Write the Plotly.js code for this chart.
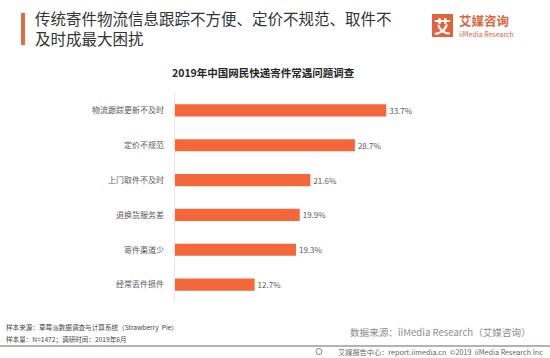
<!DOCTYPE html>
<html><head><meta charset="utf-8">
<script src="https://cdn.plot.ly/plotly-3.0.1.min.js"></script>
<style>html,body{margin:0;padding:0;background:#fff;}#chart{width:550px;height:358px;}</style>
</head><body><div id="chart"></div>
<script>
const categories = ["物流跟踪更新不及时","定价不规范","上门取件不及时","退换货服务差","寄件渠道少","经常丢件损件"];
const values = [33.7, 28.7, 21.6, 19.9, 19.3, 12.7];
const chartTitle = "2019年中国网民快递寄件常遇问题调查";
const headline = "传统寄件物流信息跟踪不方便、定价不规范、取件不<br>及时成最大困扰";
const sourceNote1 = "样本来源：草莓派数据调查与计算系统（Strawberry  Pie）";
const sourceNote2 = "样本量：N=1472；调研时间：2019年6月";
const dataSource = "数据来源：iiMedia Research（艾媒咨询）";
const footerText = "艾媒报告中心：report.iimedia.cn  ©2019  iiMedia Research Inc";

const F = '"Noto Sans CJK SC", "Noto Sans", sans-serif';
const W = 550, H = 358;
const px = x => x / W, py = y => 1 - y / H;

const trace = {
  type: 'bar', orientation: 'h',
  x: values, y: categories,
  width: 0.35,
  marker: {color: '#F4673B'},
  text: values.map(v => v.toFixed(1) + '%'),
  textposition: 'outside',
  cliponaxis: false,
  textfont: {family: F, size: 8, color: '#595959'},
  hoverinfo: 'none'
};

const annotations = [
  {text: headline, x: px(33), y: py(5), xref: 'paper', yref: 'paper', xanchor: 'left', yanchor: 'top',
   align: 'left', showarrow: false, font: {family: F, size: 15.5, color: '#333'}},
  {text: '<b>' + chartTitle + '</b>', x: px(263), y: py(72), xref: 'paper', yref: 'paper', xanchor: 'center', yanchor: 'middle',
   showarrow: false, font: {family: F, size: 10.5, color: '#262626'}},
  {text: '<b>艾</b>', x: px(442.5), y: py(25.5), xref: 'paper', yref: 'paper', xanchor: 'center', yanchor: 'middle',
   showarrow: false, font: {family: F, size: 17, color: '#fff'}},
  {text: '<b>艾媒咨询</b>', x: px(457), y: py(20), xref: 'paper', yref: 'paper', xanchor: 'left', yanchor: 'middle',
   showarrow: false, font: {family: F, size: 12.5, color: '#E0633C'}},
  {text: 'iiMedia Research', x: px(457), y: py(34), xref: 'paper', yref: 'paper', xanchor: 'left', yanchor: 'middle',
   showarrow: false, font: {family: F, size: 7, color: '#E0633C'}},
  {text: sourceNote1, x: px(4), y: py(327), xref: 'paper', yref: 'paper', xanchor: 'left', yanchor: 'middle',
   showarrow: false, font: {family: F, size: 6.6, color: '#444'}},
  {text: sourceNote2, x: px(4), y: py(339), xref: 'paper', yref: 'paper', xanchor: 'left', yanchor: 'middle',
   showarrow: false, font: {family: F, size: 6.6, color: '#444'}},
  {text: dataSource, x: px(533), y: py(332), xref: 'paper', yref: 'paper', xanchor: 'right', yanchor: 'middle',
   showarrow: false, font: {family: F, size: 9.6, color: '#8c8c8c'}},
  {text: footerText, x: px(545), y: py(351.5), xref: 'paper', yref: 'paper', xanchor: 'right', yanchor: 'middle',
   showarrow: false, font: {family: F, size: 7.2, color: '#666'}}
];

const shapes = [
  {type: 'rect', xref: 'paper', yref: 'paper', x0: px(21), x1: px(25), y0: py(13), y1: py(45),
   fillcolor: '#E26C3C', line: {width: 0}},
  {type: 'rect', xref: 'paper', yref: 'paper', x0: px(432), x1: px(453), y0: py(14), y1: py(37),
   fillcolor: '#E0633C', line: {width: 0}},
  {type: 'line', xref: 'paper', yref: 'paper', x0: 0, x1: 1, y0: py(346), y1: py(346),
   line: {color: '#999999', width: 1.6}},
  {type: 'circle', xref: 'paper', yref: 'paper', x0: px(316), x1: px(322), y0: py(348.5), y1: py(354.5),
   line: {color: '#666', width: 0.8}}
];

const layout = {
  width: W, height: H,
  margin: {l: 0, r: 0, t: 0, b: 0, pad: 0},
  paper_bgcolor: '#fff', plot_bgcolor: '#fff',
  showlegend: false,
  xaxis: {domain: [px(175), px(526)], range: [0, 56], showgrid: false, zeroline: false,
          showticklabels: false, ticks: '', fixedrange: true},
  yaxis: {domain: [py(302), py(93)], autorange: 'reversed', showgrid: false, zeroline: false, ticks: '',
          showline: true, linecolor: '#e6e6e6', linewidth: 1.5, ticklabelstandoff: 8,
          tickfont: {family: F, size: 8, color: '#595959'}, fixedrange: true},
  annotations: annotations,
  shapes: shapes,
  font: {family: F}
};

Plotly.newPlot('chart', [trace], layout, {displayModeBar: false, staticPlot: true});
</script>
</body></html>
